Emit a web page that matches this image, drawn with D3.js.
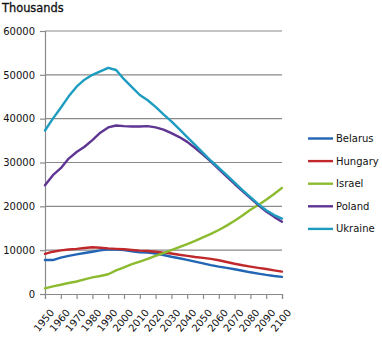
<!DOCTYPE html>
<html>
<head>
<meta charset="utf-8">
<script src="https://cdn.jsdelivr.net/npm/d3@7"></script>
<style>
  html, body { margin: 0; padding: 0; background: #fff; }
  svg { display: block; font-family: "DejaVu Sans", sans-serif; }
</style>
</head>
<body>
<svg id="chart" width="382" height="340"></svg>
<script>
// Population projections, thousands, 1950–2100 in five-year steps
const years = d3.range(1950, 2101, 5);
const countries = ["Belarus", "Hungary", "Israel", "Poland", "Ukraine"];
const colors = ["#2265b5", "#c0282c", "#8cbb30", "#5e3592", "#1d9cc0"];

const belarus = [7750, 7750, 8300, 8700, 9050, 9350, 9650, 9950, 10200, 10150, 10000, 9750, 9500, 9450, 9250, 8900, 8500, 8150, 7800, 7400, 7000, 6600, 6250, 5950, 5650, 5300, 4950, 4650, 4350, 4100, 3900];
const hungary = [9150, 9650, 9950, 10150, 10300, 10500, 10650, 10550, 10400, 10300, 10200, 10050, 9900, 9800, 9650, 9450, 9250, 8950, 8700, 8450, 8250, 8000, 7700, 7300, 6900, 6550, 6250, 5950, 5700, 5400, 5100];
const israel = [1300, 1750, 2100, 2500, 2850, 3350, 3800, 4100, 4500, 5400, 6100, 6800, 7400, 8000, 8700, 9300, 10000, 10700, 11400, 12100, 12900, 13700, 14600, 15600, 16700, 17900, 19200, 20300, 21500, 22800, 24200];
const poland = [24800, 27100, 28700, 30900, 32400, 33600, 35100, 36800, 38000, 38450, 38300, 38200, 38200, 38300, 38000, 37500, 36700, 35800, 34700, 33300, 31800, 30200, 28500, 26800, 25100, 23500, 21900, 20300, 18800, 17600, 16500];
const ukraine = [37300, 40000, 42500, 45100, 47300, 48900, 50000, 50800, 51600, 51100, 49000, 47200, 45400, 44200, 42700, 41000, 39400, 37600, 35800, 34000, 32200, 30400, 28800, 27100, 25400, 23700, 22100, 20500, 19100, 18000, 17200];

const series = [belarus, hungary, israel, poland, ukraine];
const xTicks = d3.range(1950, 2101, 10);
const yTicks = [0, 10000, 20000, 30000, 40000, 50000, 60000];

const svg = d3.select("#chart");
const plot = { left: 45, right: 282, top: 31, bottom: 294 };

const x = d3.scaleLinear().domain([1950, 2100]).range([plot.left, plot.right]);
const y = d3.scaleLinear().domain([0, 60000]).range([plot.bottom, plot.top]);

// Title
svg.append("text")
  .attr("x", 2).attr("y", 12)
  .attr("font-size", 11.4)
  .attr("fill", "#111")
  .attr("stroke", "#111").attr("stroke-width", 0.3)
  .text("Thousands");

// Horizontal gridlines
svg.append("g")
  .selectAll("line")
  .data(yTicks.filter(d => d > 0))
  .join("line")
  .attr("x1", plot.left).attr("x2", plot.right)
  .attr("y1", d => y(d)).attr("y2", d => y(d))
  .attr("stroke", "#8a8a8a").attr("stroke-width", 1.2);

// Y axis
const yAxis = svg.append("g")
  .attr("transform", `translate(${plot.left},0)`)
  .call(d3.axisLeft(y).tickValues(yTicks).tickFormat(d3.format("d")).tickSize(5).tickPadding(5));
yAxis.select(".domain").attr("stroke", "#8a8a8a").attr("stroke-width", 1.2);
yAxis.selectAll(".tick line").attr("stroke", "#8a8a8a").attr("stroke-width", 1.2);
yAxis.selectAll(".tick text").attr("font-size", 10).attr("fill", "#111").attr("font-family", "DejaVu Sans");

// X axis with slanted year labels
const xAxis = svg.append("g")
  .attr("transform", `translate(0,${plot.bottom})`)
  .call(d3.axisBottom(x).tickValues(xTicks).tickFormat(d3.format("d")).tickSize(5));
xAxis.select(".domain").attr("stroke", "#8a8a8a").attr("stroke-width", 1.2);
xAxis.selectAll(".tick line").attr("stroke", "#8a8a8a").attr("stroke-width", 1.2);
xAxis.selectAll(".tick text")
  .attr("font-size", 10).attr("fill", "#111").attr("font-family", "DejaVu Sans")
  .attr("text-anchor", "end")
  .attr("dy", null).attr("y", null)
  .attr("transform", "translate(7,17) rotate(-50)")
  .attr("dominant-baseline", "middle");

// Lines
const line = d3.line()
  .x((d, i) => x(years[i]))
  .y(d => y(d));

svg.append("g")
  .selectAll("path")
  .data(series)
  .join("path")
  .attr("d", d => line(d))
  .attr("fill", "none")
  .attr("stroke", (d, i) => colors[i])
  .attr("stroke-width", 2.4)
  .attr("stroke-linejoin", "round")
  .attr("stroke-linecap", "round");

// Legend
const legend = svg.append("g")
  .selectAll("g")
  .data(countries)
  .join("g")
  .attr("transform", (d, i) => `translate(308,${138.5 + i * 22.6})`);
legend.append("line")
  .attr("x1", 0).attr("x2", 25)
  .attr("stroke", (d, i) => colors[i]).attr("stroke-width", 2.4);
legend.append("text")
  .attr("x", 28).attr("y", 0).attr("dy", "0.35em")
  .attr("font-size", 10).attr("fill", "#111")
  .text(d => d);
</script>
</body>
</html>
